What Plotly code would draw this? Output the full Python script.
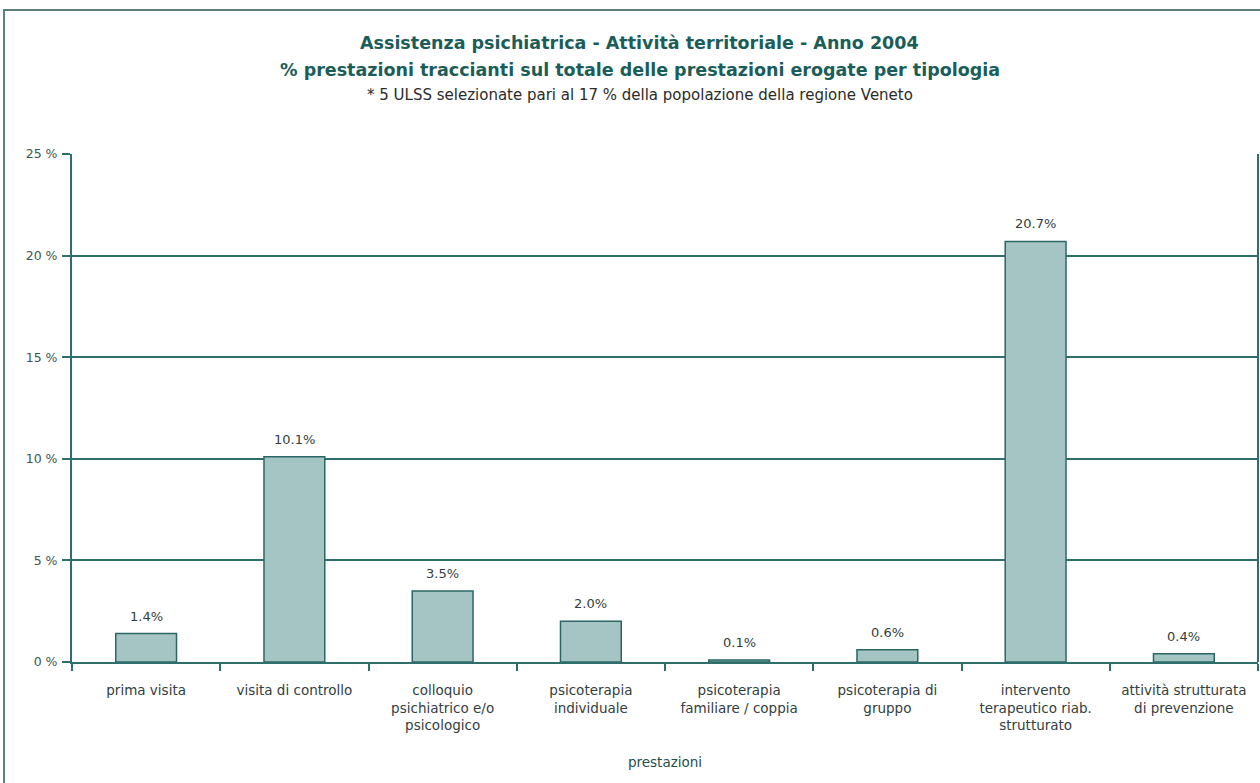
import plotly.graph_objects as go

# Service categories (x axis) and share of total services, in percent
categories = [
    "prima visita",
    "visita di controllo",
    "colloquio<br>psichiatrico e/o<br>psicologico",
    "psicoterapia<br>individuale",
    "psicoterapia<br>familiare / coppia",
    "psicoterapia di<br>gruppo",
    "intervento<br>terapeutico riab.<br>strutturato",
    "attività strutturata<br>di prevenzione",
]
values = [1.4, 10.1, 3.5, 2.0, 0.1, 0.6, 20.7, 0.4]
y_ticks = [0, 5, 10, 15, 20, 25]

title_lines = [
    "Assistenza psichiatrica - Attività territoriale - Anno 2004",
    "% prestazioni traccianti sul totale delle prestazioni erogate per tipologia",
    "* 5 ULSS selezionate pari al 17 % della popolazione della regione Veneto",
]

TEAL = "#1b5d58"
GRID = "#2e6f6c"
TEXT = "#33403f"
FONT = "DejaVu Sans, Arial, sans-serif"

fig = go.Figure(
    go.Bar(
        x=categories,
        y=values,
        marker=dict(color="#a4c5c3", line=dict(color="#2a6764", width=1.5)),
        cliponaxis=False,
    )
)

# Value labels above each bar
for cat, val in zip(categories, values):
    fig.add_annotation(
        x=cat, y=val, text=f"{val:.1f}%", showarrow=False,
        xanchor="center", yanchor="bottom", yshift=8,
        font=dict(family=FONT, size=13, color=TEXT),
    )

fig.update_layout(
    width=1260,
    height=783,
    margin=dict(l=72, r=2, t=154, b=121),
    paper_bgcolor="white",
    plot_bgcolor="white",
    bargap=0.59,
    showlegend=False,
    font=dict(family=FONT, color=TEXT),
)

fig.update_xaxes(
    type="category",
    tickson="boundaries",
    ticks="outside",
    ticklen=7,
    tickcolor=GRID,
    tickwidth=1.5,
    showline=True,
    linecolor=GRID,
    linewidth=2,
    showgrid=False,
    ticklabelstandoff=15,
    tickfont=dict(size=13.5, color=TEXT),
    title=dict(text="prestazioni", font=dict(size=13.5, color="#24504d"), standoff=25),
)

fig.update_yaxes(
    range=[0, 25],
    tickvals=y_ticks,
    ticktext=[f"{t} %" for t in y_ticks],
    ticks="outside",
    ticklen=8,
    tickcolor=GRID,
    tickwidth=1.5,
    showline=True,
    linecolor=GRID,
    linewidth=2,
    showgrid=True,
    gridcolor=GRID,
    gridwidth=1.5,
    zeroline=False,
    ticklabelstandoff=2,
    tickfont=dict(size=12.5, color="#3d5553"),
)

# Right edge of plot area
fig.add_shape(type="line", xref="paper", yref="paper", x0=1, x1=1, y0=0, y1=1,
              line=dict(color=GRID, width=2))

# Outer chart frame, running off the right and bottom of the page
fig.add_shape(type="rect", xref="paper", yref="paper",
              x0=-0.0573, x1=1.05, y0=-0.4, y1=1.2835,
              line=dict(color="#5b807e", width=2), layer="below")

# Title lines
fig.add_annotation(text=title_lines[0], xref="paper", yref="paper", x=0.4789, y=1.2185,
                   showarrow=False, xanchor="center", yanchor="middle",
                   font=dict(family=FONT, size=17.5, color=TEAL, weight="bold"))
fig.add_annotation(text=title_lines[1], xref="paper", yref="paper", x=0.4789, y=1.1654,
                   showarrow=False, xanchor="center", yanchor="middle",
                   font=dict(family=FONT, size=17.5, color=TEAL, weight="bold"))
fig.add_annotation(text=title_lines[2], xref="paper", yref="paper", x=0.4789, y=1.1161,
                   showarrow=False, xanchor="center", yanchor="middle",
                   font=dict(family=FONT, size=15, color="#2b2b2b"))

fig.write_html("out.html")
